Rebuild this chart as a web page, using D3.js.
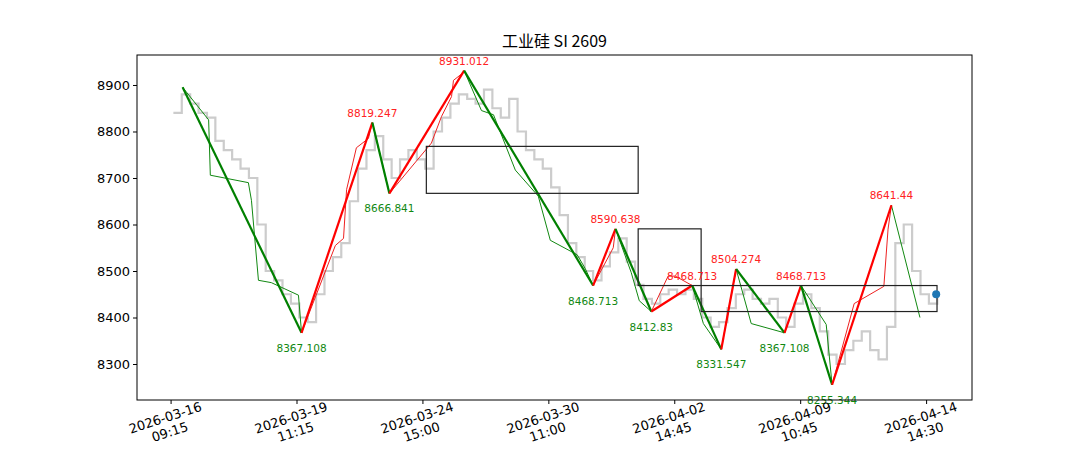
<!DOCTYPE html>
<html><head><meta charset="utf-8">
<script src="https://cdn.jsdelivr.net/npm/d3@7"></script>
<style>body{margin:0;background:#fff;}text{font-family:"DejaVu Sans",sans-serif;}</style>
</head><body><svg id="c" width="1080" height="450"></svg>
<script>
// grey price series, one value every 3 bars starting at bar 13
var priceStart = 13, priceStep = 3;
var prices = [8840,8880,8860,8840,8830,8780,8760,8740,8720,8700,8600,8500,8480,8450,8430,8400,8390,8450,8500,8530,
  8560,8650,8720,8760,8790,8740,8700,8740,8760,8740,8720,8800,8830,8860,8880,8870,8860,8890,8850,8830,
  8870,8800,8760,8740,8720,8680,8620,8560,8530,8500,8480,8510,8540,8570,8520,8470,8440,8430,8450,8460,
  8450,8460,8440,8400,8380,8390,8420,8450,8460,8440,8430,8440,8400,8380,8430,8450,8420,8370,8320,8300,
  8330,8350,8370,8330,8310,8380,8560,8600,8500,8450,8430,8445];

// main zigzag pivots [bar, value]
var pivots = [[16.3,8895],[58.8,8367.108],[84.1,8819.247],[90.2,8666.841],[116.9,8931.012],[163,8468.713],
  [171,8590.638],[183.8,8412.83],[198.4,8468.713],[208.8,8331.547],[214.1,8504.274],[231.4,8367.108],
  [237.3,8468.713],[248.4,8255.344],[269.6,8641.44]];
var pivotLabels = ["", "8367.108","8819.247","8666.841","8931.012","8468.713","8590.638","8412.83","8468.713",
  "8331.547","8504.274","8367.108","8468.713","8255.344","8641.44"];

// thin sub-swings [bar, value], colour by direction
var subUp = [
  [[58.8,8367.108],[70.9,8555],[73.8,8570],[74.9,8675],[78.4,8765],[82.7,8785],[84.1,8819.247]],
  [[90.2,8666.841],[105.2,8775],[108.8,8832],[112.4,8875],[113.1,8910],[116.9,8928],[116.9,8931.012]],
  [[163,8468.713],[170.2,8550],[171,8590.638]],
  [[183.8,8412.83],[189.8,8489],[192.4,8489],[198.4,8468.713]],
  [[208.8,8331.547],[214.1,8504.274]],
  [[231.4,8367.108],[237.3,8468.713]],
  [[248.4,8255.344],[256.3,8430],[266.9,8467],[268.4,8590],[269.6,8641.44]]
];
var subDown = [
  [[16.3,8895],[25.6,8825],[26.2,8706],[39.8,8690],[40.9,8652],[43.4,8480],[48,8475],[57.7,8448],[58.8,8367.108]],
  [[84.1,8819.247],[90.2,8666.841]],
  [[116.9,8931.012],[123.1,8845],[127.4,8836],[135.2,8717],[143.4,8661],[147.7,8566],[157.3,8535],[160.2,8505],[163,8468.713]],
  [[171,8590.638],[176.6,8497],[179.5,8436],[183.8,8412.83]],
  [[198.4,8468.713],[202.4,8387],[208.8,8331.547]],
  [[214.1,8504.274],[219.5,8387],[231.4,8367.108]],
  [[237.3,8468.713],[246.3,8385],[248.4,8255.344]],
  [[269.6,8641.44],[279.8,8400]]
];

// boxes [bar0, bar1, top, bottom]
var boxes = [[103.4,179.1,8768,8667],[179.1,201.6,8590.638,8468.713],[201.6,285.9,8468.713,8412.83]];
var lastPoint = [285.6,8450];

var tickBars = [12,57,102,147,192,237,282];
var tickLabels = [["2026-03-16","09:15"],["2026-03-19","11:15"],["2026-03-24","15:00"],["2026-03-30","11:00"],
  ["2026-04-02","14:45"],["2026-04-09","10:45"],["2026-04-14","14:30"]];
var yTicks = [8300,8400,8500,8600,8700,8800,8900];

var svg = d3.select("#c");
var L = 137, R = 972, T = 55, B = 400;
var x = d3.scaleLinear().domain([0.0, 298.4]).range([L, R]);
var y = d3.scaleLinear().domain([8222.6, 8964.5]).range([B, T]);

svg.append("text").attr("x", (L + R) / 2).attr("y", 47).attr("text-anchor", "middle")
  .style("font-size", "16px").style("font-family", "'Noto Sans CJK SC','DejaVu Sans'").text("工业硅 SI 2609");

var g = svg.append("g");

// grey price
var priceLine = d3.line().curve(d3.curveStepAfter)
  .x(function (d, i) { return x(priceStart + i * priceStep); }).y(function (d) { return y(d); });
g.append("path").datum(prices).attr("d", priceLine).attr("fill", "none").attr("stroke", "#cccccc").attr("stroke-width", 2.2);

var line = d3.line().x(function (d) { return x(d[0]); }).y(function (d) { return y(d[1]); });
subUp.forEach(function (s) { g.append("path").attr("d", line(s)).attr("fill", "none").attr("stroke", "#ee2222").attr("stroke-width", 1); });
subDown.forEach(function (s) { g.append("path").attr("d", line(s)).attr("fill", "none").attr("stroke", "#118811").attr("stroke-width", 1); });

for (var i = 0; i < pivots.length - 1; i++) {
  var up = pivots[i + 1][1] > pivots[i][1];
  g.append("path").attr("d", line([pivots[i], pivots[i + 1]])).attr("fill", "none")
    .attr("stroke", up ? "#ff0000" : "#008000").attr("stroke-width", 2.2);
}

boxes.forEach(function (b) {
  g.append("rect").attr("x", x(b[0])).attr("y", y(b[2])).attr("width", x(b[1]) - x(b[0])).attr("height", y(b[3]) - y(b[2]))
    .attr("fill", "none").attr("stroke", "#222").attr("stroke-width", 1.2);
});

pivots.forEach(function (p, i) {
  if (!pivotLabels[i]) return;
  var prev = pivots[i - 1][1], isPeak = p[1] > prev;
  g.append("text").attr("x", x(p[0])).attr("y", y(p[1]) + (isPeak ? -6 : 19)).attr("text-anchor", "middle")
    .style("font-size", "10.5px").attr("fill", isPeak ? "#ff2222" : "#118811").text(pivotLabels[i]);
});

g.append("circle").attr("cx", x(lastPoint[0])).attr("cy", y(lastPoint[1])).attr("r", 4).attr("fill", "#1f77b4");

svg.append("rect").attr("x", L).attr("y", T).attr("width", R - L).attr("height", B - T).attr("fill", "none").attr("stroke", "#000").attr("stroke-width", 1);

var ya = svg.append("g").attr("transform", "translate(" + L + ",0)")
  .call(d3.axisLeft(y).tickValues(yTicks).tickSize(4).tickFormat(d3.format("d")));
ya.select(".domain").remove();
ya.selectAll("text").style("font-size", "13px").style("font-family", "DejaVu Sans").attr("fill", "#000");

var xa = svg.append("g").attr("transform", "translate(0," + B + ")")
  .call(d3.axisBottom(x).tickValues(tickBars).tickSize(4).tickFormat(""));
xa.select(".domain").remove();
tickBars.forEach(function (t, i) {
  var tx = svg.append("text").attr("transform", "translate(" + (x(t) - 4) + "," + (B + 22) + ") rotate(-18)")
    .attr("text-anchor", "middle").style("font-size", "13px");
  tx.append("tspan").attr("x", 0).attr("dy", 0).text(tickLabels[i][0]);
  tx.append("tspan").attr("x", 0).attr("dy", 15).text(tickLabels[i][1]);
});
</script></body></html>
